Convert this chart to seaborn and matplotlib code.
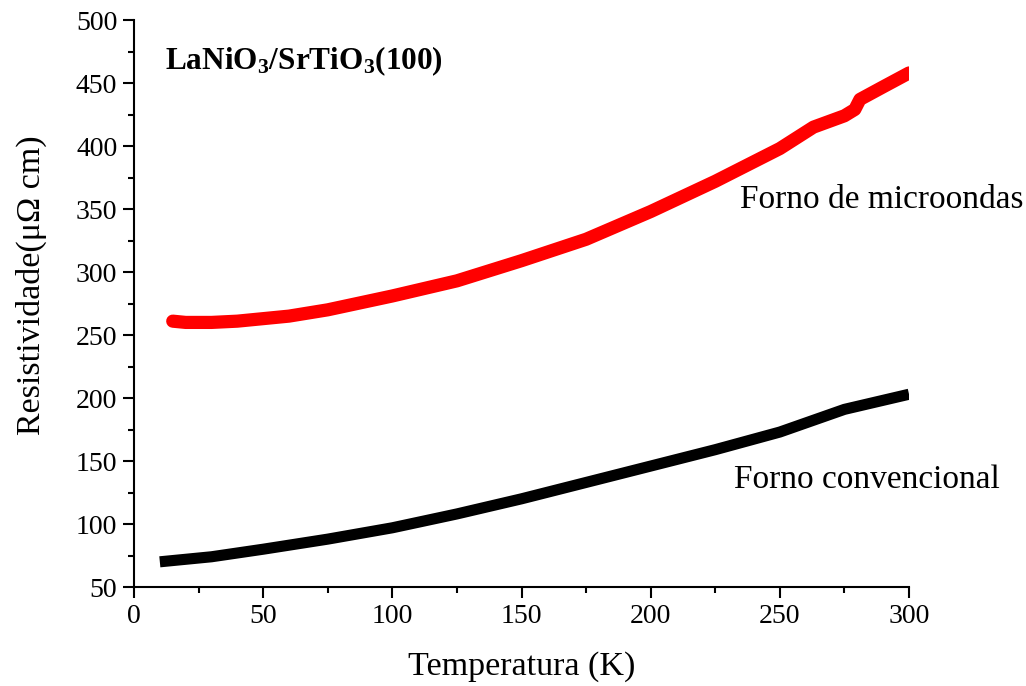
import numpy as np
import pandas as pd
import matplotlib
matplotlib.use("Agg")
import matplotlib.pyplot as plt
from matplotlib.ticker import MultipleLocator
import seaborn as sns

# Data
temp_micro = [15, 20, 30, 40, 50, 60, 75, 100, 125, 150, 175, 200, 225, 250, 263, 275, 279, 281, 290, 300]
rho_micro = [261, 260, 260, 261, 263, 265, 270, 281, 293, 309, 326, 348, 372, 398, 415, 424, 429, 437, 447, 458]
temp_conv = [10, 20, 30, 40, 50, 75, 100, 125, 150, 175, 200, 225, 250, 275, 300]
rho_conv = [70, 72, 74, 77, 80, 88, 97, 108, 120, 133, 146, 159, 173, 191, 203]
label_micro = "Forno de microondas"
label_conv = "Forno convencional"
title_text = "LaNiO$_3$/SrTiO$_3$(100)"
x_ticks = [0, 50, 100, 150, 200, 250, 300]
y_ticks = [50, 100, 150, 200, 250, 300, 350, 400, 450, 500]

sns.set_theme(style="ticks")
plt.rcParams["font.family"] = ["Liberation Serif", "DejaVu Serif"]
plt.rcParams["mathtext.default"] = "regular"
plt.rcParams["text.color"] = "black"
plt.rcParams["axes.labelcolor"] = "black"

fig = plt.figure(figsize=(10.26, 6.86), dpi=100)
ax = fig.add_axes([0.1306, 0.1443, 0.886 - 0.1306, 0.9708 - 0.1443])

df_m = pd.DataFrame({"T": temp_micro, "rho": rho_micro})
df_c = pd.DataFrame({"T": temp_conv, "rho": rho_conv})
sns.lineplot(data=df_c, x="T", y="rho", ax=ax, color="black", linewidth=8,
             solid_capstyle="butt", solid_joinstyle="round")
sns.lineplot(data=df_m, x="T", y="rho", ax=ax, color="#ff0000", linewidth=9.5,
             solid_capstyle="round", solid_joinstyle="round")

ax.set_xlim(0, 300)
ax.set_ylim(50, 500)
ax.set_xticks(x_ticks)
ax.set_yticks(y_ticks)
ax.xaxis.set_minor_locator(MultipleLocator(25))
ax.yaxis.set_minor_locator(MultipleLocator(25))
for s in ["top", "right"]:
    ax.spines[s].set_visible(False)
for s in ["left", "bottom"]:
    ax.spines[s].set_linewidth(1.5)
    ax.spines[s].set_color("black")
ax.tick_params(which="major", direction="out", length=8, width=1.5, labelsize=20,
               colors="black", pad=4)
ax.tick_params(which="minor", direction="out", length=4.5, width=1.5, colors="black")

ax.set_xlabel("Temperatura (K)", fontsize=24.5, labelpad=16)
ax.set_ylabel("Resistividade(\u03bc\u03a9 cm)", fontsize=24.5)
ax.yaxis.set_label_coords(-0.112, 0.533)

ax.text(234.5, 357, label_micro, fontsize=24, ha="left", va="center")
ax.text(232.3, 135, label_conv, fontsize=24, ha="left", va="center")
ax.text(12, 467, title_text, fontsize=22.5, fontweight="bold", ha="left", va="center")

fig.savefig("out.png", dpi=100, facecolor="white")
